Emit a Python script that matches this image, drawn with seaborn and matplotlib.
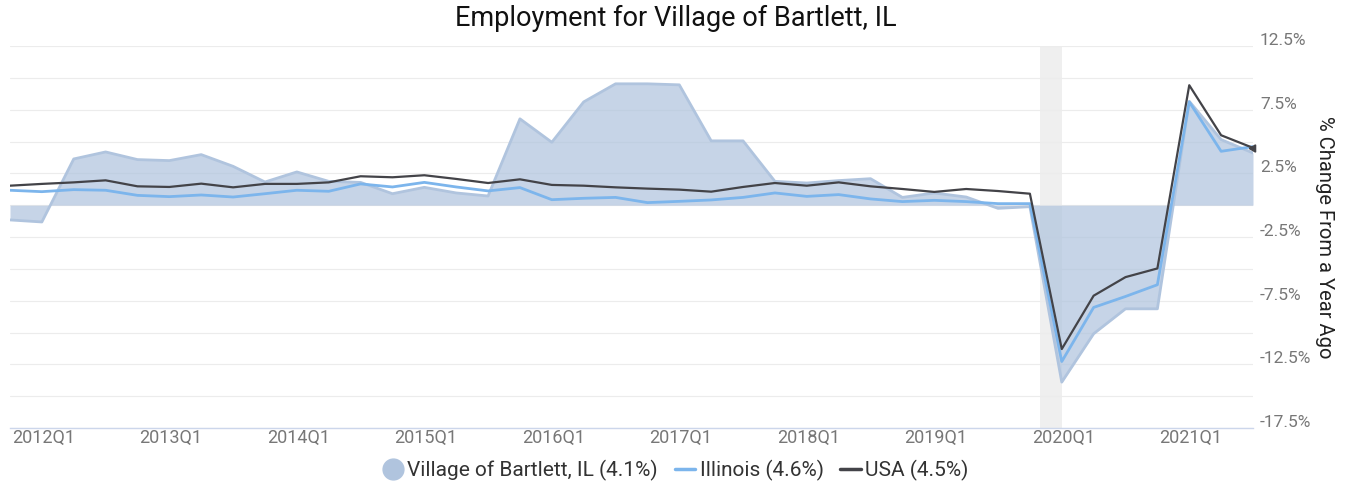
import numpy as np
import pandas as pd
import matplotlib.pyplot as plt
import matplotlib.transforms as mtransforms
from matplotlib.lines import Line2D
import seaborn as sns

# quarters 2012Q1 .. 2021Q4
quarters = [f"{y}Q{q}" for y in range(2012, 2022) for q in range(1, 5)]

bartlett = [-1.16, -1.32, 3.63, 4.18, 3.58, 3.50, 3.97, 3.05,
            1.82, 2.61, 1.87, 1.79, 0.90, 1.40, 0.96, 0.72,
            6.78, 4.94, 8.11, 9.53, 9.53, 9.45, 5.05, 5.05,
            1.87, 1.74, 1.93, 2.08, 0.61, 0.96, 0.64, -0.25,
            -0.12, -13.9, -10.1, -8.14, -8.14, 8.16, 5.15, 4.10]

illinois = [1.17, 1.06, 1.22, 1.17, 0.77, 0.67, 0.80, 0.64,
            0.90, 1.17, 1.09, 1.67, 1.43, 1.79, 1.43, 1.12,
            1.38, 0.43, 0.54, 0.61, 0.20, 0.30, 0.41, 0.61,
            0.96, 0.69, 0.83, 0.49, 0.28, 0.38, 0.28, 0.12,
            0.12, -12.28, -8.03, -7.17, -6.25, 8.11, 4.23, 4.6]

usa = [1.53, 1.67, 1.79, 1.95, 1.48, 1.43, 1.69, 1.40,
       1.67, 1.67, 1.79, 2.27, 2.19, 2.35, 2.06, 1.74,
       2.03, 1.59, 1.53, 1.40, 1.30, 1.22, 1.06, 1.43,
       1.74, 1.53, 1.79, 1.48, 1.27, 1.04, 1.27, 1.11,
       0.90, -11.3, -7.11, -5.65, -4.97, 9.42, 5.49, 4.5]

# recession band in quarter index units (Feb 2020 - Apr 2020)
recession = (32.33, 33.0)

legend_labels = ["Village of Bartlett, IL (4.1%)", "Illinois (4.6%)", "USA (4.5%)"]

df = pd.DataFrame({"idx": np.arange(len(quarters)), "quarter": quarters,
                   "Bartlett": bartlett, "Illinois": illinois, "USA": usa})

sns.set_theme(style="white")
plt.rcParams['font.family'] = ['Roboto', 'DejaVu Sans']

fig = plt.figure(figsize=(13.51, 4.87), dpi=100)
ax = fig.add_axes([10 / 1351, 1 - 428 / 487, 1243 / 1351, 382 / 487])

# recession shading
ax.axvspan(recession[0], recession[1], color="#efefef", zorder=0, lw=0)

# area for the village
ax.fill_between(df["idx"], 0, df["Bartlett"], color="#b0c4de", alpha=0.72, lw=0, zorder=2)
ax.plot(df["idx"], df["Bartlett"], color="#b0c4de", lw=2, zorder=2)

sns.lineplot(data=df, x="idx", y="Illinois", color="#7cb5ec", lw=2, ax=ax, zorder=3)
sns.lineplot(data=df, x="idx", y="USA", color="#434348", lw=1.6, ax=ax, zorder=4)
# arrow-like marker at the last USA point
ax.plot(df["idx"].iloc[-1], df["USA"].iloc[-1], marker=(3, 0, -30), color="#434348",
        markersize=6, zorder=5, clip_on=False)

ax.set_xlim(0, len(quarters) - 1)
ax.set_ylim(-17.5, 12.5)

# y axis on the right
ax.yaxis.tick_right()
ax.set_yticks(np.arange(-17.5, 12.6, 5))
ax.set_yticks(np.arange(-15, 12.6, 5), minor=True)
ax.set_yticklabels([f"{v:.1f}%" for v in np.arange(-17.5, 12.6, 5)])
ax.tick_params(axis="y", which="both", length=0, labelsize=12.5, labelcolor="#777777", pad=5)
off = mtransforms.ScaledTranslation(0, 7 / 100, fig.dpi_scale_trans)
for lab in ax.get_yticklabels():
    lab.set_transform(lab.get_transform() + off)
ax.yaxis.set_label_position("right")
ax.set_ylabel("% Change From a Year Ago", rotation=270, fontsize=14.5, color="#222222", labelpad=16)
ax.grid(axis="y", which="both", color="#ececec", lw=0.8)

# x axis
xt = np.arange(0, len(quarters), 4)
ax.set_xticks(xt)
ax.set_xticklabels([quarters[i] for i in xt], ha="left")
ax.tick_params(axis="x", length=8, width=1, color="#ccd6eb", labelsize=13, labelcolor="#777777", pad=-7)
off_x = mtransforms.ScaledTranslation(2 / 100, 0, fig.dpi_scale_trans)
for lab in ax.get_xticklabels():
    lab.set_transform(lab.get_transform() + off_x)
ax.set_xlabel("")

for s in ["top", "left", "right"]:
    ax.spines[s].set_visible(False)
ax.spines["bottom"].set_color("#ccd6eb")
ax.spines["bottom"].set_linewidth(1)

fig.suptitle("Employment for Village of Bartlett, IL", fontsize=19.5, color="#111111", y=0.99, x=0.5)

handles = [Line2D([], [], marker="o", ls="", markersize=15, markerfacecolor="#b0c4de",
                  markeredgecolor="#b0c4de"),
           Line2D([], [], color="#7cb5ec", lw=2.5),
           Line2D([], [], color="#434348", lw=2.5)]
fig.legend(handles, legend_labels, loc="center", bbox_to_anchor=(0.5, 0.035), ncol=3,
           frameon=False, fontsize=15, handlelength=1.0, handletextpad=0.2, columnspacing=0.8,
           labelcolor="#333333")

fig.savefig("out.png", dpi=100)
